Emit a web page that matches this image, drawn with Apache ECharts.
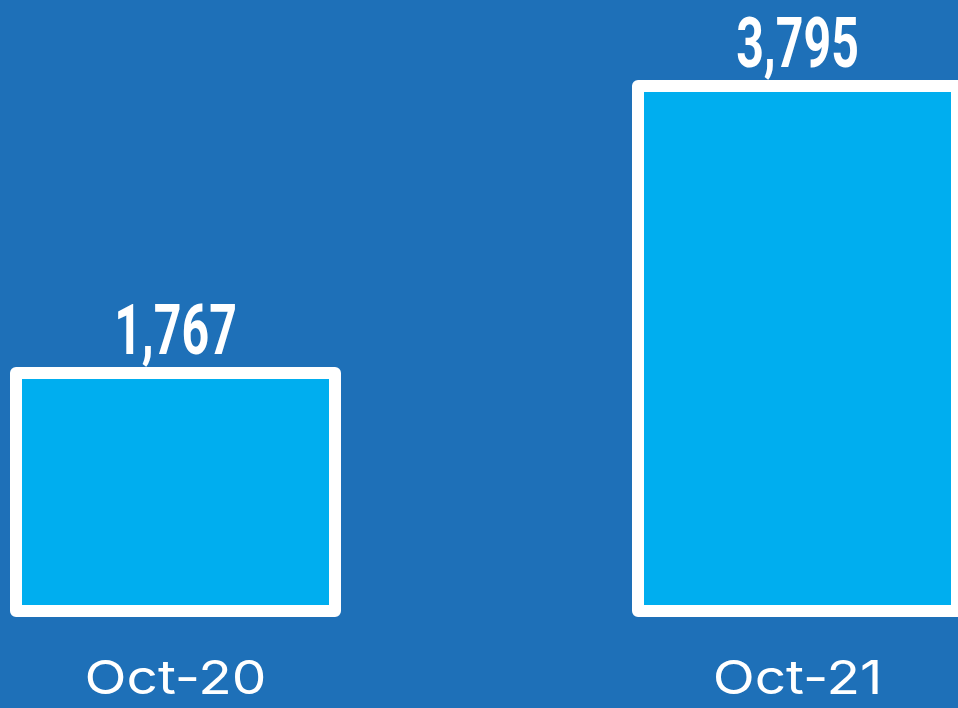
<!DOCTYPE html>
<html>
<head>
<meta charset="utf-8">
<style>
	html, body{
		margin: 0;
		padding: 0;
		background: #1e70b8;
	}
	#chart{
		width: 958px;
		height: 708px;
	}
</style>
<script src="https://cdn.jsdelivr.net/npm/echarts@6/dist/echarts.min.js"></script>
</head>
<body>
<div id="chart"></div>
<script>
// months compared
var months = ['Oct-20', 'Oct-21'];
// values shown above the bars
var counts = [1767, 3795];

var chart = echarts.init(document.getElementById('chart'));

// value label (tall, narrow) above the bar and month name (wide) below it
function renderLabels(params, api) {
	var idx = api.value(0);
	var top = api.coord([idx, api.value(1)]);
	var base = api.coord([idx, 0]);
	return {
		type: 'group',
		children: [
			{
				type: 'text',
				x: top[0],
				y: top[1] + 5,
				scaleX: 0.68,
				style: {
					text: api.value(1).toLocaleString('en-US'),
					font: 'bold 71px Roboto, "Liberation Sans", sans-serif',
					fill: '#ffffff',
					align: 'center',
					verticalAlign: 'bottom'
				}
			},
			{
				type: 'text',
				x: base[0],
				y: base[1] + 39,
				scaleX: 1.17,
				style: {
					text: months[idx],
					font: '47px Inter, sans-serif',
					fill: '#ffffff',
					align: 'center',
					verticalAlign: 'top'
				}
			}
		]
	};
}

var option = {
	backgroundColor: '#1e70b8',
	animation: false,
	grid: {
		left: 175.5,
		right: 160.5,
		top: 8.5,
		bottom: 91
	},
	xAxis: {
		type: 'category',
		data: months,
		boundaryGap: false,
		axisLine: { show: false },
		axisTick: { show: false },
		axisLabel: { show: false }
	},
	yAxis: {
		type: 'value',
		min: 0,
		max: 4300,
		show: false,
		splitLine: { show: false }
	},
	series: [
		{
			type: 'bar',
			data: counts,
			barWidth: 331,
			clip: false,
			itemStyle: {
				color: '#00aeef',
				borderColor: '#ffffff',
				borderWidth: 12,
				borderJoin: 'round'
			}
		},
		{
			type: 'custom',
			renderItem: renderLabels,
			z: 5,
			data: counts.map(function (v, i) { return [i, v]; })
		}
	]
};

chart.setOption(option);
</script>
</body>
</html>
